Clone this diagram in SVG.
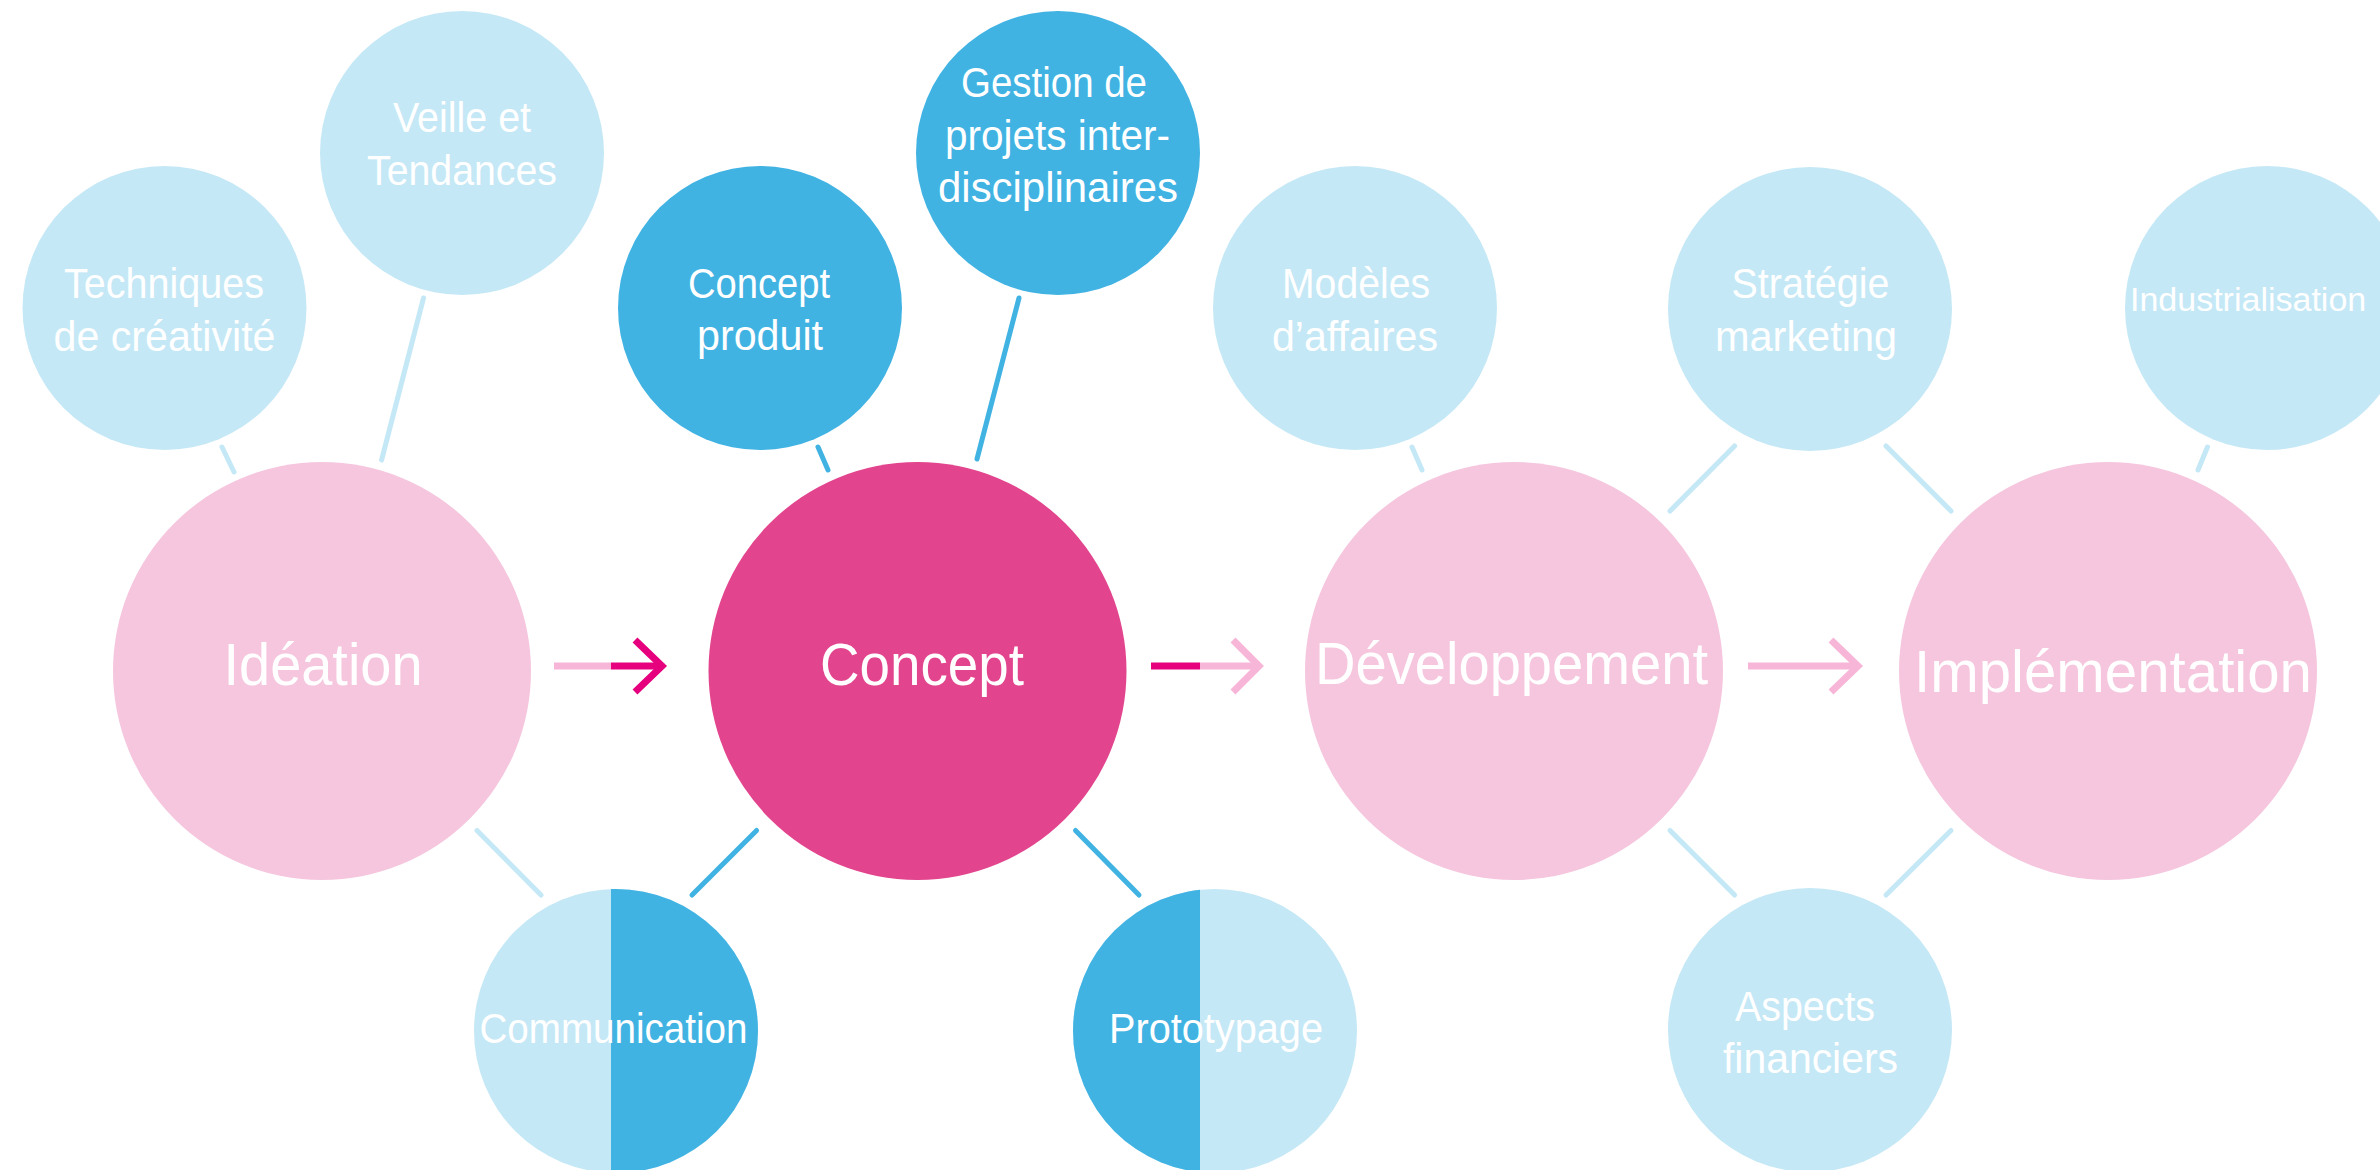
<svg xmlns="http://www.w3.org/2000/svg" width="2380" height="1170" viewBox="0 0 2380 1170">
<style>
.lb{fill:#C5E8F6}
.mb{fill:#41B3E3}
.lp{fill:#F5C6DE}
.mg{fill:#E2448E}
text{font-family:"Liberation Sans",Arial,sans-serif;fill:#FFFFFF;text-anchor:middle}
.big{font-size:60px}
.sm{font-size:43px}
.cl{stroke-width:5;stroke-linecap:round;fill:none}
.clb{stroke:#C5E8F6}
.cmb{stroke:#41B3E3}
.ar{fill:none;stroke-width:7;stroke-linecap:butt}
</style>
<defs>
<clipPath id="commR"><rect x="611" y="880" width="160" height="300"/></clipPath>
<clipPath id="protoL"><rect x="1060" y="880" width="140" height="300"/></clipPath>
</defs>
<rect width="2380" height="1170" fill="#FFFFFF"/>
<g id="connectors">
<line class="cl clb" x1="222" y1="447" x2="234" y2="472"/>
<line class="cl clb" x1="423.5" y1="298" x2="381.6" y2="460"/>
<line class="cl cmb" x1="818" y1="447" x2="828" y2="470"/>
<line class="cl cmb" x1="1019" y1="298" x2="977" y2="459"/>
<line class="cl clb" x1="1412" y1="447" x2="1422" y2="470"/>
<line class="cl clb" x1="1734.6" y1="446" x2="1670" y2="511"/>
<line class="cl clb" x1="1886" y1="446" x2="1951" y2="511"/>
<line class="cl clb" x1="2207.5" y1="447" x2="2198" y2="470"/>
<line class="cl clb" x1="477" y1="830.5" x2="541" y2="895"/>
<line class="cl cmb" x1="756.6" y1="830.5" x2="692" y2="895"/>
<line class="cl cmb" x1="1075.5" y1="830.5" x2="1139" y2="895"/>
<line class="cl clb" x1="1670" y1="830.5" x2="1734.6" y2="895"/>
<line class="cl clb" x1="1951" y1="830.5" x2="1886" y2="895"/>
<g id="arrow1">
<line class="ar" stroke="#F7B6D7" x1="554" y1="666" x2="611" y2="666"/>
<line class="ar" stroke="#E6007E" x1="611" y1="666" x2="662" y2="666"/>
<polyline class="ar" stroke="#E6007E" points="635,640 662,666 635,692"/>
</g>
<g id="arrow2">
<line class="ar" stroke="#E6007E" x1="1151" y1="666" x2="1200" y2="666"/>
<line class="ar" stroke="#F7B6D7" x1="1200" y1="666" x2="1259" y2="666"/>
<polyline class="ar" stroke="#F7B6D7" points="1233,640 1259,666 1233,692"/>
</g>
<g id="arrow3">
<line class="ar" stroke="#F7B6D7" x1="1748" y1="666" x2="1858" y2="666"/>
<polyline class="ar" stroke="#F7B6D7" points="1831,640 1858,666 1831,692"/>
</g>
</g>
<g id="techniques">
<circle class="lb" cx="164.5" cy="308" r="142"/>
<text class="sm" x="164" y="298" textLength="200" lengthAdjust="spacingAndGlyphs">Techniques</text>
<text class="sm" x="164.5" y="351" textLength="222" lengthAdjust="spacingAndGlyphs">de créativité</text>
</g>
<g id="veille">
<circle class="lb" cx="462" cy="153" r="142"/>
<text class="sm" x="462" y="132" textLength="138" lengthAdjust="spacingAndGlyphs">Veille et</text>
<text class="sm" x="462" y="185" textLength="190" lengthAdjust="spacingAndGlyphs">Tendances</text>
</g>
<g id="concept-produit">
<circle class="mb" cx="760" cy="308" r="142"/>
<text class="sm" x="759" y="298" textLength="142" lengthAdjust="spacingAndGlyphs">Concept</text>
<text class="sm" x="760" y="350" textLength="126" lengthAdjust="spacingAndGlyphs">produit</text>
</g>
<g id="gestion">
<circle class="mb" cx="1058" cy="153" r="142"/>
<text class="sm" x="1054" y="97" textLength="186" lengthAdjust="spacingAndGlyphs">Gestion de</text>
<text class="sm" x="1057.5" y="150" textLength="225" lengthAdjust="spacingAndGlyphs">projets inter-</text>
<text class="sm" x="1058" y="202" textLength="240" lengthAdjust="spacingAndGlyphs">disciplinaires</text>
</g>
<g id="modeles">
<circle class="lb" cx="1355" cy="308" r="142"/>
<text class="sm" x="1356" y="298" textLength="148" lengthAdjust="spacingAndGlyphs">Modèles</text>
<text class="sm" x="1355" y="351" textLength="166" lengthAdjust="spacingAndGlyphs">d’affaires</text>
</g>
<g id="strategie">
<circle class="lb" cx="1810" cy="309" r="142"/>
<text class="sm" x="1810.5" y="298" textLength="158" lengthAdjust="spacingAndGlyphs">Stratégie</text>
<text class="sm" x="1806" y="351" textLength="182" lengthAdjust="spacingAndGlyphs">marketing</text>
</g>
<g id="industrialisation">
<circle class="lb" cx="2267" cy="308" r="142"/>
<text style="text-anchor:start;font-size:34px" x="2130" y="311">Industrialisation</text>
</g>
<g id="ideation">
<circle class="lp" cx="322" cy="671" r="209"/>
<text class="big" x="323" y="685" textLength="199" lengthAdjust="spacingAndGlyphs">Idéation</text>
</g>
<g id="concept">
<circle class="mg" cx="917.5" cy="671" r="209"/>
<text class="big" x="922" y="685" textLength="204" lengthAdjust="spacingAndGlyphs">Concept</text>
</g>
<g id="developpement">
<circle class="lp" cx="1514" cy="671" r="209"/>
<text class="big" x="1511.5" y="684" textLength="393" lengthAdjust="spacingAndGlyphs">Développement</text>
</g>
<g id="implementation">
<circle class="lp" cx="2108" cy="671" r="209"/>
<text class="big" x="2113" y="692" textLength="398" lengthAdjust="spacingAndGlyphs">Implémentation</text>
</g>
<g id="communication">
<circle class="lb" cx="616" cy="1031" r="142"/>
<circle class="mb" cx="616" cy="1031" r="142" clip-path="url(#commR)"/>
<text class="sm" x="613.5" y="1043" textLength="268" lengthAdjust="spacingAndGlyphs">Communication</text>
</g>
<g id="prototypage">
<circle class="lb" cx="1215" cy="1031" r="142"/>
<circle class="mb" cx="1215" cy="1031" r="142" clip-path="url(#protoL)"/>
<text class="sm" x="1216" y="1043" textLength="214" lengthAdjust="spacingAndGlyphs">Prototypage</text>
</g>
<g id="aspects">
<circle class="lb" cx="1810" cy="1030" r="142"/>
<text class="sm" x="1805" y="1021" textLength="140" lengthAdjust="spacingAndGlyphs">Aspects</text>
<text class="sm" x="1810.5" y="1073" textLength="175" lengthAdjust="spacingAndGlyphs">financiers</text>
</g>
</svg>
